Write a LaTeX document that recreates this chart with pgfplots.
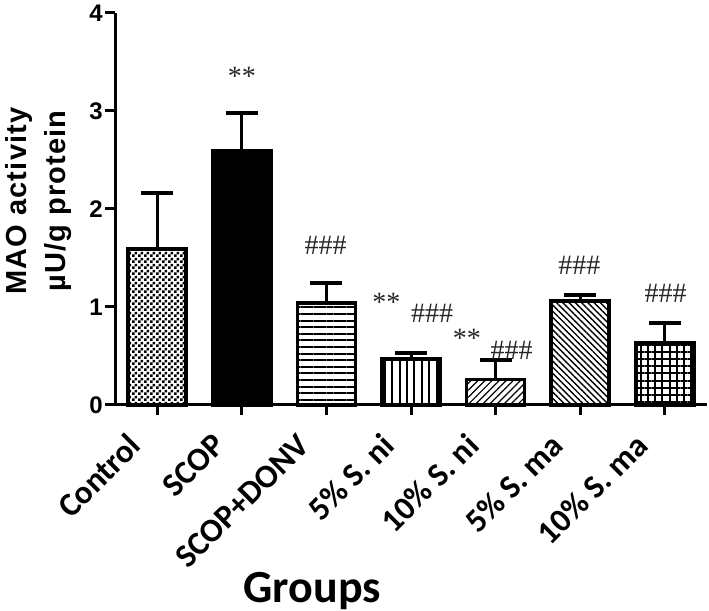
\documentclass[border=0pt]{standalone}
\usepackage{pgfplots}
\pgfplotsset{compat=1.18}
\usetikzlibrary{patterns.meta}
\usepackage{fontspec}
\setmainfont{Liberation Sans}
\newfontfamily\calibri{Carlito}
\newfontfamily\annfont{Liberation Serif}
\newfontfamily\ylabfont[LetterSpace=4]{Liberation Sans}

\tikzdeclarepattern{
  name=finecheck,
  type=uncolored,
  bounding box={(0,0) and (3pt,3pt)},
  tile size={(3pt,3pt)},
  code={\fill (0,0) rectangle (1.5pt,1.5pt); \fill (1.5pt,1.5pt) rectangle (3pt,3pt);}
}
\tikzset{ann/.style={font=\annfont\fontsize{14}{16}\selectfont, text=black!85}}
\pgfplotsset{mybar/.style={ybar, bar width=29pt, bar shift=0pt, draw=black, line width=1.8pt}}

\begin{document}
\begin{tikzpicture}
\begin{axis}[
  name=ax,
  scale only axis, width=296pt, height=196pt,
  xmin=-0.5, xmax=6.5, ymin=0, ymax=4,
  axis lines*=left,
  axis line style={line width=1.5pt},
  xtick={0,...,6},
  xticklabels={Control, SCOP, SCOP+DONV, 5\% S. ni, 10\% S. ni, 5\% S. ma, 10\% S. ma},
  ytick={0,1,2,3,4},
  tick align=outside,
  major tick length=5pt,
  every tick/.style={black, line width=1.5pt},
  /pgf/number format/assume math mode=true,
  yticklabel style={font=\bfseries\fontsize{12}{14}\selectfont, inner sep=1pt},
  xticklabel style={xshift=-10.5pt, yshift=-11.5pt, rotate=45, anchor=east, font=\calibri\bfseries\fontsize{16.5}{18}\selectfont, inner sep=1pt},
  xlabel={Groups},
  xlabel style={at={(axis description cs:0.333,-0.503)}, anchor=base, font=\calibri\bfseries\fontsize{23}{26}\selectfont},
  ylabel={MAO activity\\µU/g protein},
  ylabel style={at={(axis description cs:-0.073,0.52)}, anchor=south, align=center, inner sep=0pt, font=\ylabfont\bfseries\fontsize{14.5}{19.5}\selectfont},
  clip=false,
  error bars/y dir=plus,
  error bars/y explicit,
  error bars/error bar style={line width=1.5pt, black},
  error bars/error mark options={rotate=90, line width=2pt, mark size=8pt, black},
]
\addplot[mybar, pattern=finecheck, pattern color=black] coordinates {(0,1.59) +- (0,0.57)};
\addplot[mybar, fill=black] coordinates {(1,2.59) +- (0,0.39)};
\addplot[mybar, pattern={Lines[angle=0,distance=3.3pt,line width=1pt]}] coordinates {(2,1.04) +- (0,0.20)};
\addplot[mybar, pattern={Lines[angle=90,distance=3.7pt,line width=1pt]}] coordinates {(3,0.47) +- (0,0.06)};
\addplot[mybar, pattern={Lines[angle=45,distance=2.5pt,line width=0.6pt]}] coordinates {(4,0.26) +- (0,0.20)};
\addplot[mybar, pattern={Lines[angle=-45,distance=2.2pt,line width=0.7pt]}] coordinates {(5,1.06) +- (0,0.06)};
\addplot[mybar, pattern={Hatch[angle=0,distance=3.6pt,line width=1pt]}] coordinates {(6,0.63) +- (0,0.21)};

\node[ann] at (axis cs:1,3.35) {**};
\node[ann] at (axis cs:1.99,1.63) {\#\#\#};
\node[ann] at (axis cs:2.71,1.05) {**};
\node[ann] at (axis cs:3.25,0.94) {\#\#\#};
\node[ann] at (axis cs:3.66,0.68) {**};
\node[ann] at (axis cs:4.19,0.56) {\#\#\#};
\node[ann] at (axis cs:4.99,1.43) {\#\#\#};
\node[ann] at (axis cs:6.01,1.14) {\#\#\#};
\end{axis}
\pgfresetboundingbox
\path ([xshift=-57.5pt,yshift=-103pt]ax.south west) rectangle ([xshift=1pt,yshift=6.5pt]ax.north east);
\end{tikzpicture}
\end{document}
